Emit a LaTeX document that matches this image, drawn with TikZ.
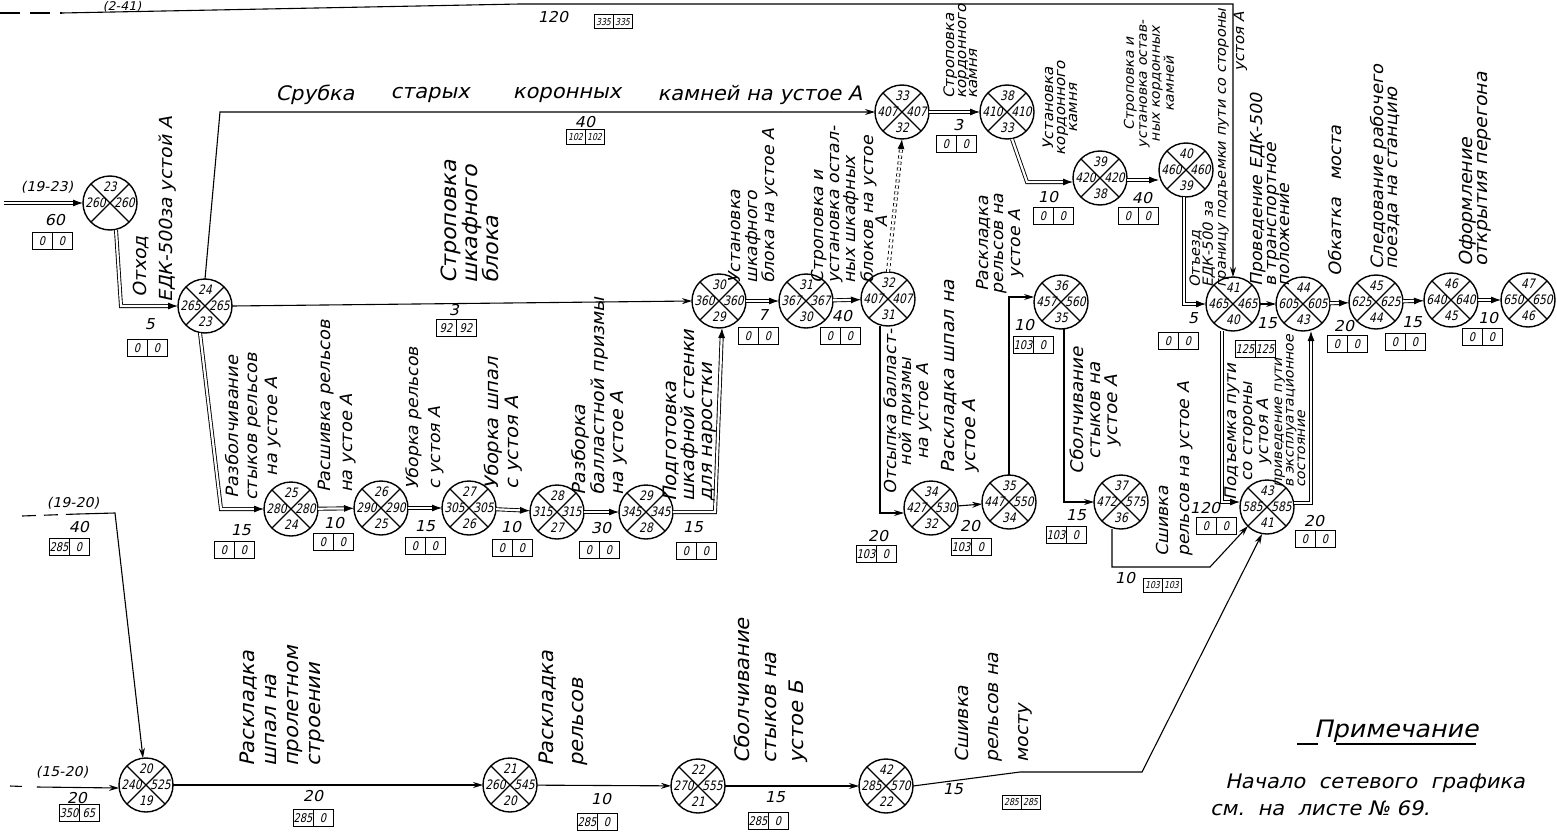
\documentclass[tikz,border=0pt]{standalone}
\usepackage{fontspec}
\setmainfont{DejaVu Sans}[FakeSlant=0.22,FakeStretch=1.05]
\newfontfamily\numf{DejaVu Sans}[FakeSlant=0.22,FakeStretch=0.82]
\usetikzlibrary{arrows.meta,calc}
\newcommand\fs[2]{\fontsize{#1}{#2}\selectfont}
\tikzset{
 ev/.style={circle,draw,line width=1.4pt,minimum size=54pt,inner sep=0pt,outer sep=0pt},
 nn/.style={font=\numf\fs{13}{13},inner sep=0pt},
 cell/.style={draw,line width=1pt,minimum width=20pt,minimum height=17pt,inner sep=0.5pt,outer sep=0pt,font=\numf\fs{12}{12}},
 scell/.style={draw,line width=1pt,minimum width=19pt,minimum height=14pt,inner sep=0.3pt,outer sep=0pt,font=\numf\fs{9.5}{9.5}},
 lab/.style={font=\fs{15}{15},inner sep=0pt},
 vl/.style={rotate=90,anchor=west,align=left,inner sep=0pt,font=\fs{17}{17}},
 vc/.style={rotate=90,anchor=center,align=center,inner sep=0pt,font=\fs{17}{17}},
 crit/.style={line width=0.9pt,double=white,double distance=2.2pt,-{Latex[length=10pt,width=7pt]}},
 act/.style={line width=1.1pt,-{Stealth[length=10pt,width=6pt]}},
}
\newcommand\evt[7]{%
 \node[ev] (#1) at (#2,#3) {};
 \draw[line width=1.2pt] (#1.north west) -- (#1.south east) (#1.north east) -- (#1.south west);
 \node[nn] (#1t) at ([yshift=16pt]#1.center) {#4};
 \node[nn] (#1l) at ([xshift=-14.5pt]#1.center) {#5};
 \node[nn] (#1r) at ([xshift=14.5pt]#1.center) {#6};
 \node[nn] (#1b) at ([yshift=-16pt]#1.center) {#7};
}
\newcommand\bx[5]{%
 \node[cell,anchor=east] (#1a) at (#2,#3) {#4};
 \node[cell,anchor=west] (#1b) at (#2,#3) {#5};
}
\newcommand\bxs[5]{%
 \node[scell,anchor=east] (#1a) at (#2,#3) {#4};
 \node[scell,anchor=west] (#1b) at (#2,#3) {#5};
}
\begin{document}
\begin{tikzpicture}[x=1pt,y=-1pt]
\useasboundingbox (0,0) rectangle (1557,832);

% ---------- events ----------
\evt{n23}{110}{203}{23}{260}{260}{}
\evt{n24}{205}{306}{24}{265}{265}{23}
\evt{n25}{291}{509}{25}{280}{280}{24}
\evt{n26}{381}{508}{26}{290}{290}{25}
\evt{n27}{469}{508}{27}{305}{305}{26}
\evt{n28}{557}{512}{28}{315}{315}{27}
\evt{n29}{646}{512}{29}{345}{345}{28}
\evt{n30}{719}{301}{30}{360}{360}{29}
\evt{n31}{806}{301}{31}{367}{367}{30}
\evt{n32}{888}{299}{32}{407}{407}{31}
\evt{n33}{902}{112}{33}{407}{407}{32}
\evt{n38}{1007}{112}{38}{410}{410}{33}
\evt{n39}{1100}{178}{39}{420}{420}{38}
\evt{n40}{1186}{170}{40}{460}{460}{39}
\evt{n41}{1233}{304}{41}{465}{465}{40}
\evt{n44}{1303}{304}{44}{605}{605}{43}
\evt{n45}{1376}{302}{45}{625}{625}{44}
\evt{n46}{1451}{300}{46}{640}{640}{45}
\evt{n47}{1528}{300}{47}{650}{650}{46}
\evt{n43}{1267}{507}{43}{585}{585}{41}
\evt{n34}{931}{508}{34}{427}{530}{32}
\evt{n35}{1009}{502}{35}{447}{550}{34}
\evt{n36}{1061}{302}{36}{457}{560}{35}
\evt{n37}{1121}{502}{37}{472}{575}{36}
\evt{n20}{146}{785}{20}{240}{525}{19}
\evt{n21}{510}{785}{21}{260}{545}{20}
\evt{n22}{698}{786}{22}{270}{555}{21}
\evt{n42}{886}{786}{42}{285}{570}{22}

% ---------- connectors ----------
\coordinate (t0) at (0,13);
\coordinate (t1) at (62,13);
\draw[line width=1.1pt,dash pattern=on 20pt off 10pt] (t0) -- (t1);
\draw[act] (t1) -- (520,4) -- (1233,4) -- (n41.north);

\coordinate (s23) at (4,203);
\draw[crit] (s23) -- (n23.west);
\draw[crit] ([xshift=6pt]n23.south) -- (121,306) -- (n24.west);
\draw[act] (n24.north) -- (220,112) -- (n33.west);
\draw[act] (n24.east) -- (n30.west);
\draw[crit] ([xshift=-5pt]n24.south) -- (221,509) -- (n25.west);
\draw[crit] (n25) -- (n26);
\draw[crit] (n26) -- (n27);
\draw[crit] (n27) -- (n28);
\draw[crit] (n28) -- (n29);
\draw[crit] (n29.east) -- (715,512) -- ([xshift=3pt]n30.south);
\draw[crit] (n30) -- (n31);
\draw[crit] (n31) -- (n32);
\draw[crit,dashed] (n32.north) -- (n33.south);
\draw[crit] (n33) -- (n38);
\draw[crit] ([xshift=5pt]n38.south) -- (1027,182) -- ([yshift=-4pt]n39.west);
\draw[crit] ([yshift=-2pt]n39.east) -- ([yshift=-10pt]n40.west);
\draw[crit] ([xshift=-2pt]n40.south) -- (1184,304) -- (n41.west);
\draw[act] (n41.east) -- (n44.west);
\draw[crit] ([xshift=-11pt]n41.south) -- (1222,502) -- ([yshift=5pt]n43.west);
\draw[crit] ([yshift=4pt]n43.east) -| ([xshift=8pt]n44.south);
\draw[crit] (n44) -- (n45);
\draw[crit] (n45) -- (n46);
\draw[crit] (n46) -- (n47);
\draw[act] ([xshift=-8pt]n32.south) -- (880,513) -- ([yshift=-5pt]n34.west);
\draw[act] (n34) -- (n35);
\draw[act] (n35.north) |- ([yshift=5pt]n36.west);
\draw[act] ([xshift=3pt]n36.south) |- (n37.west);
\draw[act] ([xshift=-9pt]n37.south) -- (1112,567) -- (1210,567) -- (n43.south west);
\draw[act] (n42.east) -- (1020,772) -- (1142,772) -- ([xshift=-5pt]n43.south);
\draw[act] (n20) -- (n21);
\draw[act] (n21) -- (n22);
\draw[act] (n22) -- (n42);
\coordinate (s1920) at (22,516);
\coordinate (s1920b) at (78,514);
\draw[line width=1.1pt,dash pattern=on 14pt off 8pt] (s1920) -- (s1920b);
\draw[act] (s1920b) -- (115,513) -- ([xshift=-3pt]n20.north);
\coordinate (s1520) at (10,786);
\coordinate (s1520b) at (37,787);
\draw[line width=1.1pt,dash pattern=on 12pt off 15pt] (s1520) -- (s1520b);
\draw[act] (s1520b) -- ([yshift=-3pt]n20.west);

% ---------- horizontal texts ----------
\node[lab,font=\fs{12}{12}] (g241) at (122,7) {(2-41)};
\node[lab] (v120) at (553,17) {120};
\bxs{b120}{613}{22}{335}{335}
\node[lab,font=\fs{13.5}{13.5}] (g1923) at (47,187) {(19-23)};
\node[lab] (v60) at (55,220) {60};
\bx{b60}{52}{241}{0}{0}
\node[lab,font=\fs{13.5}{13.5}] (g1920) at (73,503) {(19-20)};
\node[lab] (v40a) at (79,527) {40};
\bx{b40a}{69}{547}{285}{0}
\node[lab,font=\fs{13.5}{13.5}] (g1520) at (62,772) {(15-20)};
\node[lab] (v20a) at (77,798) {20};
\bx{b20a}{79}{813}{350}{65}

\node[lab,font=\fs{20}{20}] (w1) at (315,95) {Срубка};
\node[lab,font=\fs{20}{20}] (w2) at (430,95) {старых};
\node[lab,font=\fs{20}{20}] (w3) at (567,95) {коронных};
\node[lab,font=\fs{20}{20}] (w4) at (760,95) {камней на устое А};

\node[lab] (v5a) at (150,324) {5};           \bx{b5a}{147}{348}{0}{0}
\node[lab] (v40b) at (585,122) {40};         \bxs{b40b}{585}{137}{102}{102}
\node[lab] (v3a) at (454,310) {3};           \bx{b3a}{456}{328}{92}{92}
\node[lab] (v15a) at (241,530) {15};         \bx{b15a}{234}{550}{0}{0}
\node[lab] (v10a) at (334,523) {10};         \bx{b10a}{333}{542}{0}{0}
\node[lab] (v15b) at (425,526) {15};         \bx{b15b}{425}{546}{0}{0}
\node[lab] (v10b) at (511,527) {10};         \bx{b10b}{512}{548}{0}{0}
\node[lab] (v30) at (601,528) {30};          \bx{b30}{599}{550}{0}{0}
\node[lab] (v15c) at (693,527) {15};         \bx{b15c}{696}{551}{0}{0}
\node[lab] (v7) at (763,315) {7};            \bx{b7}{758}{336}{0}{0}
\node[lab] (v40c) at (842,316) {40};         \bx{b40c}{840}{336}{0}{0}
\node[lab] (v3b) at (958,125) {3};           \bx{b3b}{956}{144}{0}{0}
\node[lab] (v10c) at (1048,197) {10};        \bx{b10c}{1053}{216}{0}{0}
\node[lab] (v40d) at (1142,198) {40};        \bx{b40d}{1138}{216}{0}{0}
\node[lab] (v5b) at (1193,318) {5};          \bx{b5b}{1178}{341}{0}{0}
\node[lab] (v15d) at (1267,323) {15};        \bx{b15d}{1255}{349}{125}{125}
\node[lab] (v20b) at (1344,326) {20};        \bx{b20b}{1347}{344}{0}{0}
\node[lab] (v15e) at (1412,322) {15};        \bx{b15e}{1405}{342}{0}{0}
\node[lab] (v10d) at (1488,318) {10};        \bx{b10d}{1482}{337}{0}{0}
\node[lab] (v120b) at (1205,508) {120};      \bx{b120b}{1216}{526}{0}{0}
\node[lab] (v20c) at (1314,521) {20};        \bx{b20c}{1315}{539}{0}{0}
\node[lab] (v20d) at (878,536) {20};         \bx{b20d}{876}{554}{103}{0}
\node[lab] (v20e) at (970,526) {20};         \bx{b20e}{971}{547}{103}{0}
\node[lab] (v10e) at (1024,325) {10};        \bx{b10e}{1033}{345}{103}{0}
\node[lab] (v15f) at (1076,515) {15};        \bx{b15f}{1066}{535}{103}{0}
\node[lab] (v10f) at (1125,578) {10};        \bxs{b10f}{1162}{585}{103}{103}
\node[lab] (v15g) at (953,789) {15};         \bxs{b15g}{1021}{802}{285}{285}
\node[lab] (v20f) at (313,796) {20};         \bx{b20f}{313}{818}{285}{0}
\node[lab] (v10g) at (601,799) {10};         \bx{b10g}{597}{822}{285}{0}
\node[lab] (v15h) at (775,797) {15};         \bx{b15h}{768}{821}{285}{0}

% ---------- vertical activity texts ----------
\node[vl,font=\fs{18}{18}] (L1) at (141,298) {Отход};
\node[vl,font=\fs{18}{18}] (L2) at (168,303) {ЕДК-500за устой А};
\node[vl,font=\fs{21}{21}] (L3) at (470,284) {Строповка\\шкафного\\блока};
\node[vc,font=\fs{17}{19.5}] (L4) at (253,427) {Разболчивание\\стыков рельсов\\на устое А};
\node[vl,font=\fs{17}{22}] (L5) at (337,493) {Расшивка рельсов\\на устое А};
\node[vl,font=\fs{16.5}{22}] (L6) at (425,490) {Уборка рельсов\\с устоя А};
\node[vl,font=\fs{18.5}{20}] (L7) at (503,490) {Уборка шпал\\с устоя А};
\node[vl,font=\fs{18}{19}] (L8) at (599,496) {Разборка\\балластной призмы\\на устое А};
\node[vl,font=\fs{18.5}{18}] (L9) at (690,502) {Подготовка\\шкафной стенки\\для наростки};
\node[vl,font=\fs{16.5}{17}] (L10) at (753,284) {Установка\\шкафного\\блока на устое А};
\node[vl,font=\fs{16.5}{16}] (L11) at (844,284) {Строповка и\\установка остал-\\ных шкафных\\блоков на устое};
\node[vc,font=\fs{16}{16}] (L11b) at (882,222) {А};
\node[vl,font=\fs{14.5}{11.5}] (L12) at (961,99) {Строповка\\кордонного\\камня};
\node[vc,font=\fs{14.5}{12}] (L13) at (1060,108) {Установка\\кордонного\\камня};
\node[vc,font=\fs{13.5}{13}] (L14) at (1149,84) {Строповка и\\установка остав-\\ных кордонных\\камней};
\node[vl,font=\fs{14}{13}] (L15) at (1209,288) {Отъезд\\ЕДК-500 за\\границу подъемки пути со стороны};
\node[vl,font=\fs{14.5}{14.5}] (L16) at (1241,72) {устоя А};
\node[vl,font=\fs{16.5}{13.5}] (L17) at (1270,287) {Проведение ЕДК-500\\в транспортное\\положение};
\node[vl,font=\fs{17}{17}] (L18) at (1335,277) {Обкатка\quad моста};
\node[vl,font=\fs{17}{14.5}] (L19) at (1385,270) {Следование рабочего\\поезда на станцию};
\node[vl,font=\fs{18}{14.5}] (L20) at (1475,267) {Оформление\\открытия перегона};
\node[vc,font=\fs{16}{16}] (L21) at (1248,432) {Подъемка пути\\со стороны\\устоя А};
\node[vl,font=\fs{13.5}{11.5}] (L22) at (1290,488) {приведение пути\\в эксплуатационное\\состояние};
\node[vc,font=\fs{16.5}{15}] (L23) at (908,412) {Отсыпка балласт-\\ной призмы\\на устое А};
\node[vl,font=\fs{18}{21}] (L24) at (960,474) {Раскладка шпал на\\устое А};
\node[vc,font=\fs{16.5}{15}] (L25) at (1000,244) {Раскладка\\рельсов на\\устое А};
\node[vc,font=\fs{17.5}{17}] (L26) at (1096,411) {Сболчивание\\стыков на\\устое А};
\node[vl,font=\fs{16.5}{21}] (L27) at (1175,557) {Сшивка\\рельсов на устое А};
\node[vl,font=\fs{18}{30}] (L28) at (994,763) {Сшивка\\рельсов на\\мосту};
\node[vl,font=\fs{20}{22}] (L29) at (282,767) {Раскладка\\шпал на\\пролетном\\строении};
\node[vl,font=\fs{20}{30}] (L30) at (563,767) {Раскладка\\рельсов};
\node[vl,font=\fs{20}{27}] (L31) at (771,764) {Сболчивание\\стыков на\\устое Б};

% ---------- note ----------
\node[lab,font=\fs{24}{24}] (note1) at (1396,731) {Примечание};
\draw[line width=1.2pt] (1297,744) -- (1318,744);
\draw[line width=1.2pt] (1336,744) -- (1476,744);
\node[lab,font=\fs{20}{20}] (note2) at (1375,783) {Начало\ \ сетевого\ \ графика};
\node[lab,font=\fs{20}{20}] (note3) at (1320,808) {см.\ \ на\ \ листе № 69.};
\end{tikzpicture}
\end{document}
